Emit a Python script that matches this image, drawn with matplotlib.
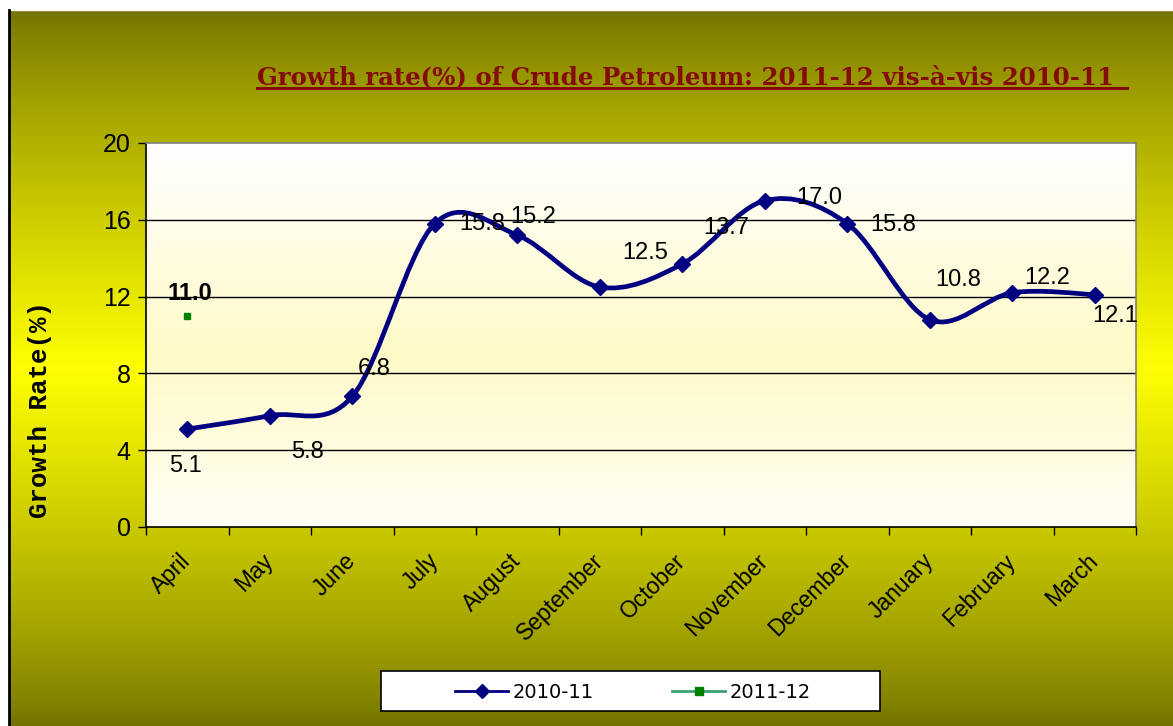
import numpy as np
import matplotlib
matplotlib.use("Agg")
import matplotlib.pyplot as plt
from matplotlib.path import Path
from matplotlib.patches import PathPatch, Rectangle
from matplotlib.lines import Line2D

months = ["April", "May", "June", "July", "August", "September", "October",
          "November", "December", "January", "February", "March"]
values_2010_11 = [5.1, 5.8, 6.8, 15.8, 15.2, 12.5, 13.7, 17.0, 15.8, 10.8, 12.2, 12.1]
values_2011_12 = [11.0]
yticks = [0, 4, 8, 12, 16, 20]
series_names = ["2010-11", "2011-12"]
title = "Growth rate(%) of Crude Petroleum: 2011-12 vis-à-vis 2010-11"
ylabel = "Growth Rate(%)"

# label offsets in pixels (dx, dy) relative to each point
label_offsets = [(-2, -37), (38, -36), (22, 27), (47, 0), (16, 18), (45, 34),
                 (44, 36), (55, 3), (46, -1), (28, 40), (35, 15), (20, -21)]

W, H = 1173, 726
fig = plt.figure(figsize=(W / 100, H / 100), dpi=100)

# ---- figure background gradient ----
bg = fig.add_axes([0, 0, 1, 1], zorder=-10)
bg.set_axis_off()
bg.set_xlim(0, W)
bg.set_ylim(H, 0)
dark = np.array([0x72, 0x72, 0x00]) / 255
bright = np.array([0xFF, 0xFF, 0x00]) / 255
ys = np.linspace(0, 1, 400)
t = 1 - np.abs(ys - 0.5) * 2
t = t ** 0.8
grad = dark[None, :] * (1 - t[:, None]) + bright[None, :] * t[:, None]
img = np.repeat(grad[:, None, :], 2, axis=1)
bg.imshow(img, extent=[8, W, H, 10], aspect="auto", interpolation="bilinear")
bg.add_patch(Rectangle((0, 0), W, 10, color="white", zorder=1))
bg.add_patch(Rectangle((0, 0), 8, H, color="white", zorder=1))
bg.plot([8.5, 8.5], [10, H], color="black", lw=2, zorder=2)

# ---- title with underline ----
fig.text(257 / W, 1 - 84 / H, title, fontsize=17.6, fontweight="bold",
         family="DejaVu Serif", color="#850A0A", ha="left", va="baseline")
bg.plot([257, 1127], [87.5, 87.5], color="#850A0A", lw=2.2, zorder=3)

# ---- main axes ----
ax = fig.add_axes([146 / W, 199 / H, 990 / W, 384 / H])
ax.set_xlim(-0.5, 11.5)
ax.set_ylim(0, 20)

# plot area gradient (white -> light yellow -> white)
pa_top = np.array([1.0, 1.0, 1.0])
pa_mid = np.array([0xFF, 0xFA, 0xC8]) / 255
yy = np.linspace(0, 1, 300)
tt = np.clip(1 - np.abs(yy - 0.55) / 0.55, 0, 1)
pg = pa_top[None, :] * (1 - tt[:, None]) + pa_mid[None, :] * tt[:, None]
ax.imshow(np.repeat(pg[:, None, :], 2, axis=1), extent=[-0.5, 11.5, 0, 20],
          aspect="auto", interpolation="bilinear", zorder=0, origin="upper")

for y in yticks[1:-1]:
    ax.axhline(y, color="black", lw=1, zorder=1)

# smooth line via Catmull-Rom -> cubic Bezier
x = np.arange(len(values_2010_11), dtype=float)
yv = np.array(values_2010_11, dtype=float)
pts = np.column_stack([x, yv])
verts = [pts[0]]
codes = [Path.MOVETO]
n = len(pts)
for i in range(n - 1):
    p0 = pts[max(i - 1, 0)]
    p1 = pts[i]
    p2 = pts[i + 1]
    p3 = pts[min(i + 2, n - 1)]
    c1 = p1 + (p2 - p0) / 6.0
    c2 = p2 - (p3 - p1) / 6.0
    verts += [c1, c2, p2]
    codes += [Path.CURVE4] * 3
ax.add_patch(PathPatch(Path(verts, codes), facecolor="none", edgecolor="#000080",
                       lw=3.4, zorder=3, capstyle="round", joinstyle="round"))
ax.plot(x, yv, linestyle="none", marker="D", ms=8, color="#000080", zorder=4)
ax.plot([0], values_2011_12, linestyle="none", marker="s", ms=5, color="#008000", zorder=4)

for xi, v, (dx, dy) in zip(x, values_2010_11, label_offsets):
    ax.annotate(f"{v:.1f}", (xi, v), xytext=(dx, dy), textcoords="offset pixels",
                ha="center", va="center", fontsize=17, family="Liberation Sans",
                color="black", zorder=5)
ax.annotate(f"{values_2011_12[0]:.1f}", (0, values_2011_12[0]), xytext=(3, 22),
            textcoords="offset pixels", ha="center", va="center", fontsize=17,
            fontweight="bold", family="Liberation Sans", color="black", zorder=5)

# spines
for s in ["top", "right"]:
    ax.spines[s].set_color("#808080")
    ax.spines[s].set_linewidth(1.2)
for s in ["left", "bottom"]:
    ax.spines[s].set_color("black")
    ax.spines[s].set_linewidth(1.2)

ax.set_yticks(yticks)
ax.set_yticklabels([str(v) for v in yticks], fontsize=18, family="Liberation Sans")
ax.tick_params(axis="y", direction="out", length=6, width=1, pad=5)

ax.set_xticks(np.arange(-0.5, 12, 1.0))
ax.set_xticklabels([])
ax.tick_params(axis="x", direction="out", length=6, width=1)
ax.set_xticks(x, minor=True)
ax.set_xticklabels(months, minor=True, rotation=45, ha="right", va="center",
                   rotation_mode="anchor", fontsize=16.5, family="Liberation Sans")
ax.tick_params(axis="x", which="minor", length=0, pad=22)

fig.text(40 / W, 1 - 410 / H, ylabel, rotation=90, fontsize=18.5, fontweight="bold",
         family="Liberation Mono", ha="center", va="center", color="black")

# legend (drawn manually in figure pixel space)
bg.add_patch(Rectangle((381, 671), 499, 40, facecolor="white", edgecolor="black",
                       lw=1.2, zorder=5))
bg.plot([455, 508], [691, 691], color="#000080", lw=2, zorder=6)
bg.plot([481.5], [691], marker="D", ms=7, color="#000080", zorder=7)
bg.text(513, 692, series_names[0], fontsize=14, family="DejaVu Sans",
        ha="left", va="center", zorder=7)
bg.plot([672, 725], [691, 691], color="#3CA070", lw=2, zorder=6)
bg.plot([698.5], [691], marker="s", ms=6, color="#008000", zorder=7)
bg.text(730, 692, series_names[1], fontsize=14, family="DejaVu Sans",
        ha="left", va="center", zorder=7)

fig.savefig("out.png", dpi=100)
